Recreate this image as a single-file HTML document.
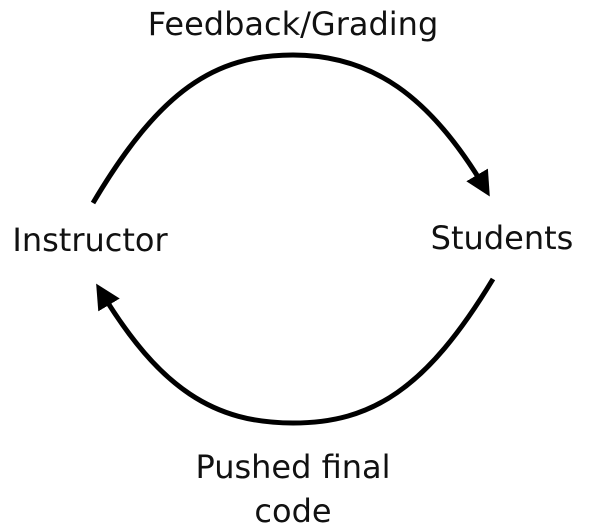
<!DOCTYPE html>
<html><head><meta charset="utf-8"><style>
html,body{margin:0;padding:0;background:#fff;}
svg{display:block;}
text{font-family:"DejaVu Sans","Liberation Sans",sans-serif;font-size:32px;fill:#111;}
</style></head><body>
<svg width="593" height="531" viewBox="0 0 593 531" xmlns="http://www.w3.org/2000/svg">
<defs>
<marker id="ah" markerWidth="5" markerHeight="5" refX="3.5" refY="2.5" orient="auto" markerUnits="strokeWidth">
<path d="M0,0 L5,2.5 L0,5 z" fill="#000"/>
</marker>
</defs>
<path d="M93,203 C160,90 215,55 293,55 C371,55 430,95 486,190" fill="none" stroke="#000" stroke-width="5" marker-end="url(#ah)"/>
<path d="M493,279 C426,390 371,423 293,423 C215,423 160,390 100,290" fill="none" stroke="#000" stroke-width="5" marker-end="url(#ah)"/>
<text x="293" y="35" text-anchor="middle">Feedback/Grading</text>
<text x="90" y="251" text-anchor="middle">Instructor</text>
<text x="502" y="249" text-anchor="middle">Students</text>
<text x="293" y="478" text-anchor="middle">Pushed final</text>
<text x="293" y="522" text-anchor="middle">code</text>
</svg>
</body></html>
